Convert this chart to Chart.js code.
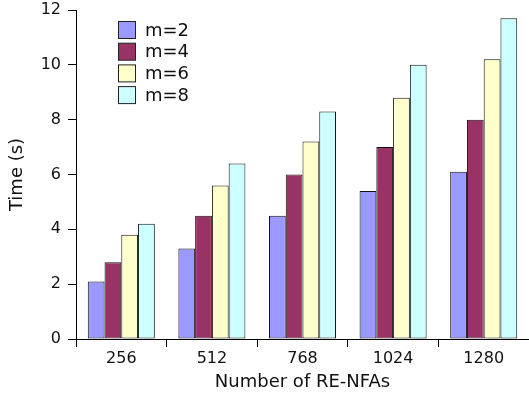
<!DOCTYPE html>
<html lang="en">
<head>
    <meta charset="UTF-8">
    <title>Time vs Number of RE-NFAs</title>
    <script src="https://cdn.jsdelivr.net/npm/chart.js"></script>
    <style>
        html, body {
            margin: 0;
            padding: 0;
            background: #fff;
        }
        .wrap {
            width: 529px;
            height: 401px;
        }
    </style>
</head>
<body>
    <div class="wrap">
        <canvas id="timeChart" width="529" height="401"></canvas>
    </div>

    <script>
        // categories (number of RE-NFAs)
        const categories = ['256', '512', '768', '1024', '1280'];

        // time in seconds for each m
        const m2 = [2.1, 3.3, 4.5, 5.4, 6.1];
        const m4 = [2.8, 4.5, 6.0, 7.0, 8.0];
        const m6 = [3.8, 5.6, 7.2, 8.8, 10.2];
        const m8 = [4.2, 6.4, 8.3, 10.0, 11.7];

        const seriesLabels = ['m=2', 'm=4', 'm=6', 'm=8'];
        const seriesColors = ['#9999ff', '#993366', '#ffffcc', '#ccffff'];

        const font = 'DejaVu Sans';

        // legend drawn inside the plot, top left
        const insideLegend = {
            id: 'insideLegend',
            afterDraw(chart) {
                const ctx = chart.ctx;
                ctx.save();
                ctx.font = '18px "' + font + '"';
                ctx.textBaseline = 'middle';
                chart.data.datasets.forEach((ds, i) => {
                    const y = 21 + i * 21.7;
                    ctx.fillStyle = ds.backgroundColor;
                    ctx.fillRect(118.5, y + 0.5, 17, 17);
                    ctx.strokeStyle = '#222';
                    ctx.lineWidth = 1;
                    ctx.strokeRect(118.5, y + 0.5, 17, 17);
                    ctx.fillStyle = '#111';
                    ctx.fillText(ds.label, 145, y + 10);
                });
                ctx.restore();
            }
        };

        const ctx = document.getElementById('timeChart').getContext('2d');
        const allSeries = [m2, m4, m6, m8];

        new Chart(ctx, {
            type: 'bar',
            data: {
                labels: categories,
                datasets: allSeries.map((vals, i) => ({
                    label: seriesLabels[i],
                    data: vals,
                    backgroundColor: seriesColors[i],
                    borderColor: '#111',
                    borderWidth: 1,
                    borderSkipped: false,
                    categoryPercentage: 0.74,
                    barPercentage: 1.0
                }))
            },
            options: {
                responsive: false,
                animation: false,
                layout: {
                    padding: { top: 10, right: 0, left: 0, bottom: 0 }
                },
                plugins: {
                    legend: { display: false },
                    tooltip: { enabled: false }
                },
                scales: {
                    x: {
                        afterFit: scale => { scale.height = 62; },
                        grid: {
                            display: true,
                            offset: true,
                            drawOnChartArea: false,
                            drawTicks: true,
                            tickLength: 8,
                            color: '#000'
                        },
                        border: { display: true, color: '#000', width: 1 },
                        ticks: {
                            color: '#111',
                            padding: 2,
                            font: { family: font, size: 16 }
                        },
                        title: {
                            display: true,
                            text: 'Number of RE-NFAs',
                            color: '#111',
                            padding: { top: 4, bottom: 8 },
                            font: { family: font, size: 18 }
                        }
                    },
                    y: {
                        min: 0,
                        max: 12,
                        afterFit: scale => {
                            scale.width = 76;
                            scale.paddingTop = 0;
                        },
                        grid: {
                            display: true,
                            drawOnChartArea: false,
                            drawTicks: true,
                            tickLength: 8,
                            color: '#000'
                        },
                        border: { display: true, color: '#000', width: 1 },
                        ticks: {
                            stepSize: 2,
                            color: '#111',
                            padding: 7,
                            font: { family: font, size: 16 }
                        },
                        title: {
                            display: true,
                            text: 'Time (s)',
                            color: '#111',
                            padding: { top: 7, bottom: 0 },
                            font: { family: font, size: 18 }
                        }
                    }
                }
            },
            plugins: [insideLegend]
        });
    </script>
</body>
</html>
